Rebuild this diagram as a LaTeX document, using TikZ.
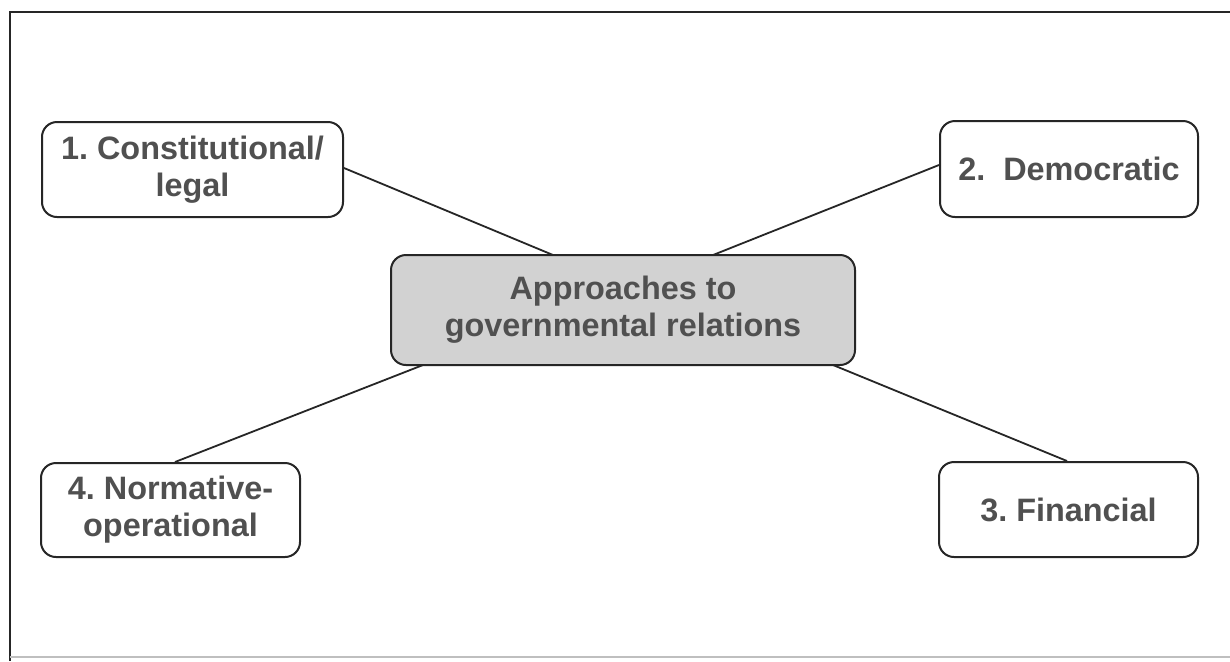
\documentclass[tikz,border=0pt]{standalone}
\usepackage{fontspec}
\setmainfont{Liberation Sans}
\definecolor{txtgray}{HTML}{505050}
\definecolor{linegray}{HTML}{262626}
\definecolor{boxfill}{HTML}{D2D2D2}
\begin{document}
\frenchspacing
\begin{tikzpicture}[x=0.5pt,y=-0.5pt,
  stepbox/.style={draw=linegray, line width=1pt, rounded corners=7.5pt, fill=white,
    align=center, inner sep=0pt, text=txtgray,
    font=\fontsize{16.2}{18.5}\selectfont\bfseries},
  centerbox/.style={stepbox, fill=boxfill},
  link/.style={draw=linegray, line width=0.9pt}]
\useasboundingbox (0,0) rectangle (1230,661);
\fill[white] (0,0) rectangle (1230,661);
\draw[linegray, line width=0.9pt] (10,661) -- (10,12) -- (1230,12);
\draw[black!25, line width=0.6pt] (10,657) -- (1230,657);
% boxes
\node[stepbox, minimum width=150.5pt, minimum height=47.5pt] (c1) at (192.5,169.5) {1. Constitutional/\\legal};
\node[stepbox, minimum width=129pt, minimum height=48pt] (c2) at (1069,169) {2.\ \ Democratic};
\node[stepbox, minimum width=129.5pt, minimum height=47.5pt] (c3) at (1068.5,509.5) {3. Financial};
\node[stepbox, minimum width=129.5pt, minimum height=47pt] (c4) at (170.5,510) {4. Normative-\\operational};
\node[centerbox, minimum width=232pt, minimum height=55pt] (ctr) at (623,310) {Approaches to\\governmental relations};
% connectors
\coordinate (t1) at (553,255);
\coordinate (t2) at (713,255);
\coordinate (b4) at (423,365);
\coordinate (b3) at (833,365);
\draw[link] (c1.east |- 0,168) -- (t1);
\draw[link] (t2) -- (c2.west |- 0,165);
\draw[link] (b4) -- (c4.north -| 175,0);
\draw[link] (b3) -- (c3.north -| 1067,0);
\end{tikzpicture}
\end{document}
